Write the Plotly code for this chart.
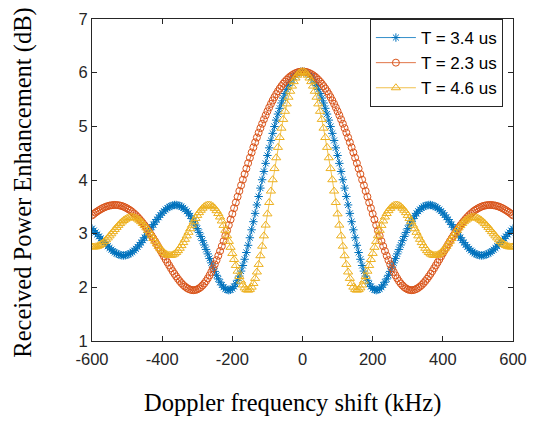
import plotly.graph_objects as go

# Doppler frequency shift grid (kHz), 5 kHz spacing
freq_khz = [
    -600, -595, -590, -585, -580, -575, -570, -565, -560, -555,
    -550, -545, -540, -535, -530, -525, -520, -515, -510, -505,
    -500, -495, -490, -485, -480, -475, -470, -465, -460, -455,
    -450, -445, -440, -435, -430, -425, -420, -415, -410, -405,
    -400, -395, -390, -385, -380, -375, -370, -365, -360, -355,
    -350, -345, -340, -335, -330, -325, -320, -315, -310, -305,
    -300, -295, -290, -285, -280, -275, -270, -265, -260, -255,
    -250, -245, -240, -235, -230, -225, -220, -215, -210, -205,
    -200, -195, -190, -185, -180, -175, -170, -165, -160, -155,
    -150, -145, -140, -135, -130, -125, -120, -115, -110, -105,
    -100, -95, -90, -85, -80, -75, -70, -65, -60, -55,
    -50, -45, -40, -35, -30, -25, -20, -15, -10, -5,
    0,
    5, 10, 15, 20, 25, 30, 35, 40, 45, 50,
    55, 60, 65, 70, 75, 80, 85, 90, 95, 100,
    105, 110, 115, 120, 125, 130, 135, 140, 145, 150,
    155, 160, 165, 170, 175, 180, 185, 190, 195, 200,
    205, 210, 215, 220, 225, 230, 235, 240, 245, 250,
    255, 260, 265, 270, 275, 280, 285, 290, 295, 300,
    305, 310, 315, 320, 325, 330, 335, 340, 345, 350,
    355, 360, 365, 370, 375, 380, 385, 390, 395, 400,
    405, 410, 415, 420, 425, 430, 435, 440, 445, 450,
    455, 460, 465, 470, 475, 480, 485, 490, 495, 500,
    505, 510, 515, 520, 525, 530, 535, 540, 545, 550,
    555, 560, 565, 570, 575, 580, 585, 590, 595, 600,
]

# Received power enhancement (dB), T = 3.4 us
gain_t34 = [
    3.094, 3.059, 3.023, 2.986, 2.949, 2.911, 2.873, 2.836, 2.799, 2.765,
    2.732, 2.702, 2.675, 2.651, 2.631, 2.615, 2.603, 2.596, 2.594, 2.597,
    2.605, 2.618, 2.636, 2.659, 2.686, 2.718, 2.753, 2.792, 2.834, 2.878,
    2.925, 2.973, 3.022, 3.071, 3.121, 3.169, 3.217, 3.263, 3.306, 3.347,
    3.385, 3.420, 3.450, 3.477, 3.498, 3.515, 3.527, 3.534, 3.535, 3.530,
    3.519, 3.503, 3.481, 3.452, 3.418, 3.378, 3.332, 3.280, 3.223, 3.161,
    3.094, 3.023, 2.948, 2.870, 2.789, 2.706, 2.623, 2.539, 2.456, 2.375,
    2.297, 2.224, 2.156, 2.096, 2.044, 2.002, 1.971, 1.953, 1.947, 1.955,
    1.977, 2.014, 2.065, 2.131, 2.210, 2.303, 2.407, 2.523, 2.649, 2.783,
    2.924, 3.072, 3.223, 3.378, 3.535, 3.692, 3.849, 4.005, 4.159, 4.310,
    4.457, 4.599, 4.737, 4.869, 4.996, 5.116, 5.229, 5.336, 5.435, 5.527,
    5.612, 5.689, 5.758, 5.819, 5.872, 5.918, 5.955, 5.983, 6.004, 6.016,
    6.021,
    6.016, 6.004, 5.983, 5.955, 5.918, 5.872, 5.819, 5.758, 5.689, 5.612,
    5.527, 5.435, 5.336, 5.229, 5.116, 4.996, 4.869, 4.737, 4.599, 4.457,
    4.310, 4.159, 4.005, 3.849, 3.692, 3.535, 3.378, 3.223, 3.072, 2.924,
    2.783, 2.649, 2.523, 2.407, 2.303, 2.210, 2.131, 2.065, 2.014, 1.977,
    1.955, 1.947, 1.953, 1.971, 2.002, 2.044, 2.096, 2.156, 2.224, 2.297,
    2.375, 2.456, 2.539, 2.623, 2.706, 2.789, 2.870, 2.948, 3.023, 3.094,
    3.161, 3.223, 3.280, 3.332, 3.378, 3.418, 3.452, 3.481, 3.503, 3.519,
    3.530, 3.535, 3.534, 3.527, 3.515, 3.498, 3.477, 3.450, 3.420, 3.385,
    3.347, 3.306, 3.263, 3.217, 3.169, 3.121, 3.071, 3.022, 2.973, 2.925,
    2.878, 2.834, 2.792, 2.753, 2.718, 2.686, 2.659, 2.636, 2.618, 2.605,
    2.597, 2.594, 2.596, 2.603, 2.615, 2.631, 2.651, 2.675, 2.702, 2.732,
    2.765, 2.799, 2.836, 2.873, 2.911, 2.949, 2.986, 3.023, 3.059, 3.094,
]

# Received power enhancement (dB), T = 2.3 us
gain_t23 = [
    3.340, 3.367, 3.392, 3.415, 3.436, 3.456, 3.474, 3.489, 3.503, 3.514,
    3.523, 3.529, 3.533, 3.535, 3.534, 3.530, 3.524, 3.515, 3.503, 3.488,
    3.471, 3.451, 3.429, 3.403, 3.375, 3.345, 3.311, 3.275, 3.237, 3.197,
    3.154, 3.109, 3.062, 3.013, 2.962, 2.910, 2.856, 2.801, 2.746, 2.689,
    2.632, 2.576, 2.519, 2.463, 2.408, 2.354, 2.301, 2.251, 2.203, 2.158,
    2.116, 2.078, 2.044, 2.015, 1.990, 1.971, 1.957, 1.949, 1.947, 1.951,
    1.962, 1.980, 2.004, 2.035, 2.072, 2.116, 2.166, 2.223, 2.286, 2.354,
    2.427, 2.506, 2.589, 2.676, 2.767, 2.861, 2.959, 3.058, 3.160, 3.264,
    3.369, 3.475, 3.581, 3.688, 3.794, 3.900, 4.005, 4.110, 4.213, 4.314,
    4.414, 4.512, 4.608, 4.701, 4.792, 4.881, 4.966, 5.049, 5.129, 5.206,
    5.280, 5.351, 5.418, 5.482, 5.543, 5.600, 5.654, 5.704, 5.750, 5.793,
    5.833, 5.868, 5.900, 5.928, 5.953, 5.973, 5.990, 6.004, 6.013, 6.019,
    6.021,
    6.019, 6.013, 6.004, 5.990, 5.973, 5.953, 5.928, 5.900, 5.868, 5.833,
    5.793, 5.750, 5.704, 5.654, 5.600, 5.543, 5.482, 5.418, 5.351, 5.280,
    5.206, 5.129, 5.049, 4.966, 4.881, 4.792, 4.701, 4.608, 4.512, 4.414,
    4.314, 4.213, 4.110, 4.005, 3.900, 3.794, 3.688, 3.581, 3.475, 3.369,
    3.264, 3.160, 3.058, 2.959, 2.861, 2.767, 2.676, 2.589, 2.506, 2.427,
    2.354, 2.286, 2.223, 2.166, 2.116, 2.072, 2.035, 2.004, 1.980, 1.962,
    1.951, 1.947, 1.949, 1.957, 1.971, 1.990, 2.015, 2.044, 2.078, 2.116,
    2.158, 2.203, 2.251, 2.301, 2.354, 2.408, 2.463, 2.519, 2.576, 2.632,
    2.689, 2.746, 2.801, 2.856, 2.910, 2.962, 3.013, 3.062, 3.109, 3.154,
    3.197, 3.237, 3.275, 3.311, 3.345, 3.375, 3.403, 3.429, 3.451, 3.471,
    3.488, 3.503, 3.515, 3.524, 3.530, 3.534, 3.535, 3.533, 3.529, 3.523,
    3.514, 3.503, 3.489, 3.474, 3.456, 3.436, 3.415, 3.392, 3.367, 3.340,
]

# Received power enhancement (dB), T = 4.6 us
gain_t46 = [
    2.753, 2.751, 2.755, 2.764, 2.779, 2.799, 2.824, 2.853, 2.885, 2.921,
    2.959, 2.998, 3.038, 3.078, 3.117, 3.154, 3.188, 3.219, 3.246, 3.269,
    3.287, 3.300, 3.307, 3.308, 3.302, 3.291, 3.274, 3.251, 3.223, 3.189,
    3.150, 3.108, 3.061, 3.013, 2.962, 2.911, 2.860, 2.810, 2.763, 2.719,
    2.681, 2.649, 2.623, 2.605, 2.596, 2.595, 2.604, 2.622, 2.649, 2.684,
    2.728, 2.778, 2.834, 2.895, 2.959, 3.025, 3.092, 3.158, 3.222, 3.284,
    3.340, 3.392, 3.436, 3.474, 3.503, 3.523, 3.533, 3.534, 3.524, 3.503,
    3.471, 3.429, 3.375, 3.311, 3.237, 3.154, 3.062, 2.962, 2.856, 2.746,
    2.632, 2.519, 2.408, 2.301, 2.203, 2.116, 2.044, 1.990, 1.957, 1.947,
    1.962, 2.004, 2.072, 2.166, 2.286, 2.427, 2.589, 2.767, 2.959, 3.160,
    3.369, 3.581, 3.794, 4.005, 4.213, 4.414, 4.608, 4.792, 4.966, 5.129,
    5.280, 5.418, 5.543, 5.654, 5.750, 5.833, 5.900, 5.953, 5.990, 6.013,
    6.021,
    6.013, 5.990, 5.953, 5.900, 5.833, 5.750, 5.654, 5.543, 5.418, 5.280,
    5.129, 4.966, 4.792, 4.608, 4.414, 4.213, 4.005, 3.794, 3.581, 3.369,
    3.160, 2.959, 2.767, 2.589, 2.427, 2.286, 2.166, 2.072, 2.004, 1.962,
    1.947, 1.957, 1.990, 2.044, 2.116, 2.203, 2.301, 2.408, 2.519, 2.632,
    2.746, 2.856, 2.962, 3.062, 3.154, 3.237, 3.311, 3.375, 3.429, 3.471,
    3.503, 3.524, 3.534, 3.533, 3.523, 3.503, 3.474, 3.436, 3.392, 3.340,
    3.284, 3.222, 3.158, 3.092, 3.025, 2.959, 2.895, 2.834, 2.778, 2.728,
    2.684, 2.649, 2.622, 2.604, 2.595, 2.596, 2.605, 2.623, 2.649, 2.681,
    2.719, 2.763, 2.810, 2.860, 2.911, 2.962, 3.013, 3.061, 3.108, 3.150,
    3.189, 3.223, 3.251, 3.274, 3.291, 3.302, 3.308, 3.307, 3.300, 3.287,
    3.269, 3.246, 3.219, 3.188, 3.154, 3.117, 3.078, 3.038, 2.998, 2.959,
    2.921, 2.885, 2.853, 2.824, 2.799, 2.779, 2.764, 2.755, 2.751, 2.753,
]

series = [
    ("T = 3.4 us", gain_t34, "#0072BD", "asterisk-open", 7),
    ("T = 2.3 us", gain_t23, "#D95319", "circle-open", 7),
    ("T = 4.6 us", gain_t46, "#EDB120", "triangle-up-open", 8),
]

x_ticks = [-600, -400, -200, 0, 200, 400, 600]
x_tick_text = ["-600", "-400", "-200", "0", "200", "400", "600"]
y_ticks = [1, 2, 3, 4, 5, 6, 7]

AXIS_COLOR = "#262626"
SANS = "Liberation Sans, Arial, sans-serif"
SERIF = "Liberation Serif, Times New Roman, serif"

fig = go.Figure()
for name, values, color, symbol, size in series:
    fig.add_trace(go.Scatter(
        x=freq_khz, y=values, name=name, mode="lines+markers",
        line=dict(color=color, width=0.8),
        marker=dict(symbol=symbol, size=size, color=color,
                    line=dict(color=color, width=1)),
    ))

axis_common = dict(
    showline=True, linecolor=AXIS_COLOR, linewidth=1, mirror="ticks",
    ticks="inside", ticklen=5, tickwidth=1, tickcolor=AXIS_COLOR,
    showgrid=False, zeroline=False,
    tickfont=dict(family=SANS, size=16.5, color=AXIS_COLOR),
)

fig.update_layout(
    width=539, height=423,
    margin=dict(l=92, r=26, t=10, b=82),
    paper_bgcolor="white", plot_bgcolor="white",
    showlegend=True,
    legend=dict(
        x=0.976, y=1.0, xanchor="right", yanchor="top",
        bgcolor="white", bordercolor=AXIS_COLOR, borderwidth=1,
        font=dict(family=SANS, size=17, color="black"),
        itemwidth=40, tracegroupgap=0,
    ),
    xaxis=dict(range=[-600, 600], tickvals=x_ticks, ticktext=x_tick_text,
               ticklabelstandoff=3, **axis_common),
    yaxis=dict(range=[1, 7], tickvals=y_ticks, **axis_common),
    annotations=[
        dict(text="Doppler frequency shift (kHz)", xref="paper", yref="paper",
             x=0.477, y=-0.193, xanchor="center", yanchor="middle", showarrow=False,
             font=dict(family=SERIF, size=24.5, color="black")),
        dict(text="Received Power Enhancement (dB)", xref="paper", yref="paper",
             x=-0.166, y=0.492, xanchor="center", yanchor="middle", showarrow=False,
             textangle=-90,
             font=dict(family=SERIF, size=24.5, color="black")),
    ],
)

fig.write_html("out.html")
